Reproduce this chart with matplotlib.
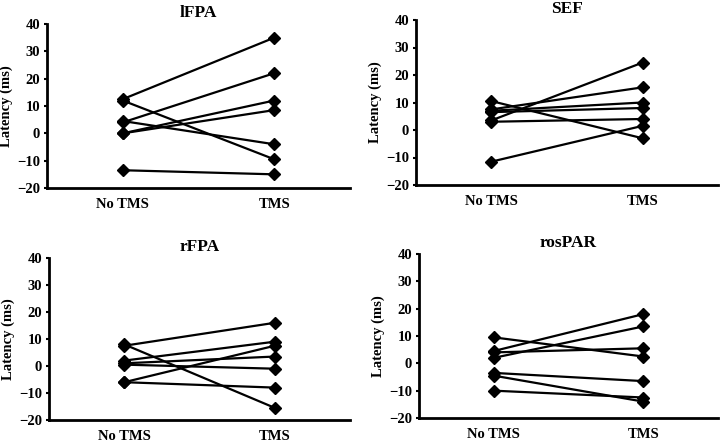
import matplotlib
matplotlib.use("Agg")
import matplotlib.pyplot as plt

plt.rcParams['font.family'] = ['Liberation Serif', 'DejaVu Serif']
plt.rcParams['font.weight'] = 'bold'

conditions = ["No TMS", "TMS"]
titles = ["lFPA", "SEF", "rFPA", "rosPAR"]

lfpa_no = [12.5, 12, 4, 4.5, 0, 0, -13.5]
lfpa_tms = [35, -9.5, 22, -4, 12, 8.5, -15]

sef_no = [3.5, 7.5, 10.5, 7, 6.5, 3, -11.5]
sef_tms = [24.5, 15.5, -3, 10, 8, 4, 1.5]

rfpa_no = [7.5, 8, 2, 1, 0.5, -6, -6]
rfpa_tms = [16, -15.5, 9, 3.5, -1, 7.5, -8]

rospar_no = [9.5, 4.5, 2, 4, -3.5, -4.5, -10]
rospar_tms = [2.5, 18, 13.5, 5.5, -6.5, -14, -12.5]

panels = [(lfpa_no, lfpa_tms), (sef_no, sef_tms), (rfpa_no, rfpa_tms), (rospar_no, rospar_tms)]

W, H = 720, 445
# axes boxes in pixels: left, top, right, bottom
boxes = [(47, 24, 350, 188), (416, 20, 718, 185), (49, 258, 350, 420), (419, 254, 718, 418)]

fig = plt.figure(figsize=(7.2, 4.45), dpi=100)
for (no, tms), title, (l, t, r, b) in zip(panels, titles, boxes):
    ax = fig.add_axes([l / W, 1 - b / H, (r - l) / W, (b - t) / H])
    for y0, y1 in zip(no, tms):
        ax.plot([0, 1], [y0, y1], color='black', lw=1.6, marker='D', ms=6.5,
                mec='black', mfc='black')
    ax.set_xlim(-0.5, 1.5)
    ax.set_ylim(-20, 40)
    ax.set_yticks([-20, -10, 0, 10, 20, 30, 40])
    ax.set_xticks([0, 1])
    ax.set_xticklabels(conditions)
    ax.tick_params(axis='x', length=0, pad=7, labelsize=10.5)
    ax.tick_params(axis='y', length=2, width=1.5, labelsize=10.5, pad=3)
    for lab in ax.get_xticklabels() + ax.get_yticklabels():
        lab.set_fontweight('bold')
    ax.spines['top'].set_visible(False)
    ax.spines['right'].set_visible(False)
    ax.spines['left'].set_linewidth(2)
    ax.spines['bottom'].set_linewidth(2)
    ax.set_ylabel("Latency (ms)", fontsize=10.5, fontweight='bold', labelpad=3)
    ax.set_title(title, fontsize=12.5, fontweight='bold', pad=5)

fig.savefig("out.png", dpi=100)
